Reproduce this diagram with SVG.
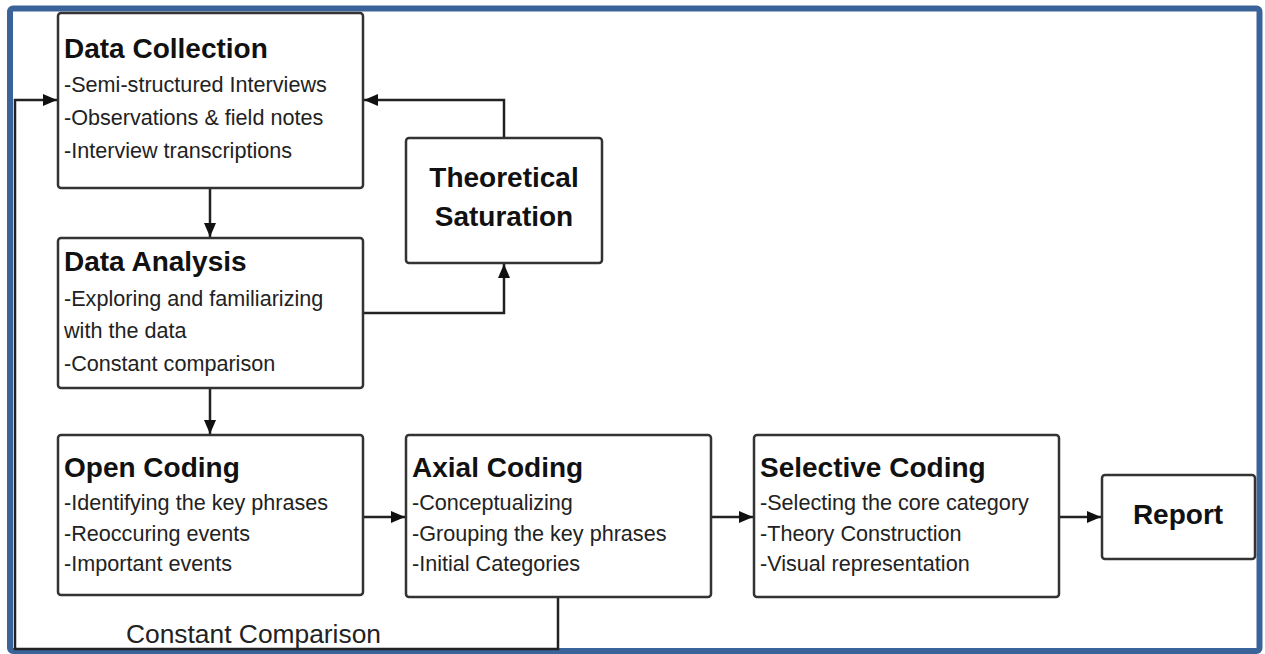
<svg xmlns="http://www.w3.org/2000/svg" width="1265" height="654" viewBox="0 0 1265 654">
<style>
.box{fill:#fff;stroke:#333;stroke-width:2.5}
.t{font-family:"Liberation Sans",Arial,sans-serif;font-weight:bold;font-size:28px;fill:#111}
.b{font-family:"Liberation Sans",Arial,sans-serif;font-size:21.6px;fill:#222}
.c{fill:none;stroke:#222;stroke-width:2.5}
</style>
<defs>
<marker id="ah" markerWidth="14" markerHeight="12" refX="14" refY="6" orient="auto" markerUnits="userSpaceOnUse">
<path d="M0,0 L14,6 L0,12 Z" fill="#111"/>
</marker>
</defs>
<rect x="0" y="0" width="1265" height="654" fill="#fff"/>
<rect x="10" y="8.5" width="1249.5" height="642.5" rx="3" fill="none" stroke="#3a6499" stroke-width="6"/>
<g id="connectors">
<path class="c" d="M210,188 V237" marker-end="url(#ah)"/>
<path class="c" d="M210,388 V434" marker-end="url(#ah)"/>
<path class="c" d="M504,138 V100 H364" marker-end="url(#ah)"/>
<path class="c" d="M363,313 H504 V264" marker-end="url(#ah)"/>
<path class="c" d="M363,517 H405" marker-end="url(#ah)"/>
<path class="c" d="M711,517 H753" marker-end="url(#ah)"/>
<path class="c" d="M1059,517 H1101" marker-end="url(#ah)"/>
<path class="c" d="M558,597 V649 H15 V100 H57" marker-end="url(#ah)"/>
<text class="b" x="126" y="643" style="font-size:25px" textLength="255" lengthAdjust="spacingAndGlyphs">Constant Comparison</text>
</g>
<g id="data-collection">
<rect class="box" x="58" y="13" width="305" height="175" rx="3"/>
<text class="t" x="64" y="58">Data Collection</text>
<text class="b" x="64" y="92">-Semi-structured Interviews</text>
<text class="b" x="64" y="125">-Observations &amp; field notes</text>
<text class="b" x="64" y="158">-Interview transcriptions</text>
</g>
<g id="theoretical-saturation">
<rect class="box" x="406" y="138" width="196" height="125" rx="3"/>
<text class="t" x="504" y="187" text-anchor="middle">Theoretical</text>
<text class="t" x="504" y="226" text-anchor="middle">Saturation</text>
</g>
<g id="data-analysis">
<rect class="box" x="58" y="238" width="305" height="150" rx="3"/>
<text class="t" x="64" y="271">Data Analysis</text>
<text class="b" x="64" y="306">-Exploring and familiarizing</text>
<text class="b" x="64" y="338">with the data</text>
<text class="b" x="64" y="371">-Constant comparison</text>
</g>
<g id="open-coding">
<rect class="box" x="58" y="435" width="305" height="160" rx="3"/>
<text class="t" x="64" y="477">Open Coding</text>
<text class="b" x="64" y="510">-Identifying the key phrases</text>
<text class="b" x="64" y="541">-Reoccuring events</text>
<text class="b" x="64" y="571">-Important events</text>
</g>
<g id="axial-coding">
<rect class="box" x="406" y="435" width="305" height="162" rx="3"/>
<text class="t" x="412" y="477">Axial Coding</text>
<text class="b" x="412" y="510">-Conceptualizing</text>
<text class="b" x="412" y="541">-Grouping the key phrases</text>
<text class="b" x="412" y="571">-Initial Categories</text>
</g>
<g id="selective-coding">
<rect class="box" x="754" y="435" width="305" height="162" rx="3"/>
<text class="t" x="760" y="477">Selective Coding</text>
<text class="b" x="760" y="510">-Selecting the core category</text>
<text class="b" x="760" y="541">-Theory Construction</text>
<text class="b" x="760" y="571">-Visual representation</text>
</g>
<g id="report">
<rect class="box" x="1102" y="475" width="153" height="84" rx="3"/>
<text class="t" x="1178" y="524" text-anchor="middle">Report</text>
</g>
</svg>
